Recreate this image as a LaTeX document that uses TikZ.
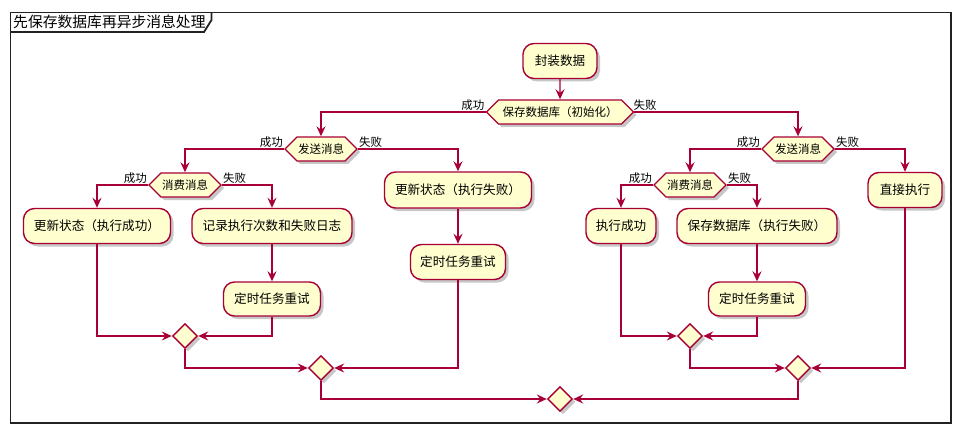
\documentclass[tikz,border=0pt]{standalone}
\usepackage{fontspec}
\setmainfont{Noto Sans CJK SC}
\usetikzlibrary{arrows.meta,shapes.geometric,shapes.symbols,shadows}
\definecolor{pu}{HTML}{A80036}
\definecolor{pufill}{HTML}{FEFECE}
\definecolor{frm}{HTML}{222222}
\begin{document}
\begin{tikzpicture}[x=1pt,y=-1pt,
  shd/.style={drop shadow={shadow xshift=3pt,shadow yshift=-3pt,fill=black,opacity=0.22}},
  act/.style={shape=rectangle,draw=pu,fill=pufill,line width=1.4pt,rounded corners=11pt,
    minimum height=35pt,inner xsep=0pt,inner ysep=0pt,shd,font=\fontsize{12.6}{14}\selectfont},
  dec/.style={shape=signal,signal to=west and east,signal pointer angle=90,draw=pu,fill=pufill,
    line width=1.4pt,minimum height=24pt,inner xsep=1pt,inner ysep=0pt,shd,
    font=\fontsize{11.5}{13}\selectfont},
  mrg/.style={shape=diamond,draw=pu,fill=pufill,line width=1.4pt,minimum width=25pt,
    minimum height=25pt,inner sep=0pt,shd},
  conn/.style={draw=pu,line width=1.4pt,-{Stealth[length=10pt,width=9pt,inset=3.5pt]}},
  lbl/.style={font=\fontsize{11.5}{13}\selectfont,inner sep=1pt,text=black}]
\useasboundingbox (0,0) rectangle (956,425);
\fill[white] (0,0) rectangle (956,425);
% frame
\draw[frm,line width=1.8pt] (10.5,12.5) rectangle (951,423);
\draw[frm,line width=1.8pt] (10.5,32) -- (204,32) -- (211.5,20) -- (211.5,12.5);
\node[anchor=west,inner sep=0pt,font=\fontsize{14.8}{16}\selectfont] (title) at (13,22) {先保存数据库再异步消息处理};
% nodes
\node[act,minimum width=74pt] (n0) at (560,61) {封装数据};
\node[dec,minimum width=147pt] (d0) at (560,112) {保存数据库（初始化）};
\node[dec,minimum width=68pt] (dL) at (321,149) {发送消息};
\node[dec,minimum width=71pt] (dR) at (798,149) {发送消息};
\node[dec,minimum width=70pt] (cL) at (185,185) {消费消息};
\node[dec,minimum width=70pt] (cR) at (690,185) {消费消息};
\node[act,minimum width=147pt] (a1) at (97,226) {更新状态（执行成功）};
\node[act,minimum width=160pt] (a2) at (272,226) {记录执行次数和失败日志};
\node[act,minimum width=147pt,minimum height=36pt] (a3) at (458,190) {更新状态（执行失败）};
\node[act,minimum width=95pt] (a4) at (458,262) {定时任务重试};
\node[act,minimum width=97pt,minimum height=34pt] (a5) at (272,299) {定时任务重试};
\node[act,minimum width=70pt] (a6) at (621,226) {执行成功};
\node[act,minimum width=160pt] (a7) at (757,226) {保存数据库（执行失败）};
\node[act,minimum width=74pt] (a8) at (905,190) {直接执行};
\node[act,minimum width=97pt,minimum height=34pt] (a9) at (757,299) {定时任务重试};
\node[mrg] (m1) at (185,336) {};
\node[mrg] (m2) at (321,368) {};
\node[mrg] (m3) at (690,336) {};
\node[mrg] (m4) at (798,368) {};
\node[mrg] (m5) at (560,399) {};
% connectors
\draw[conn] (n0) -- (d0);
\draw[conn] (d0.west) -| (dL.north);
\draw[conn] (d0.east) -| (dR.north);
\node[lbl,anchor=south east] (l1) at (d0.west) {成功};
\node[lbl,anchor=south west,xshift=-2pt] (l2) at (d0.east) {失败};
\draw[conn] (dL.west) -| (cL.north);
\draw[conn] (dL.east) -| (a3.north);
\node[lbl,anchor=south east] (l3) at (dL.west) {成功};
\node[lbl,anchor=south west] (l4) at (dL.east) {失败};
\draw[conn] (dR.west) -| (cR.north);
\draw[conn] (dR.east) -| (a8.north);
\node[lbl,anchor=south east] (l5) at (dR.west) {成功};
\node[lbl,anchor=south west] (l6) at (dR.east) {失败};
\draw[conn] (cL.west) -| (a1.north);
\draw[conn] (cL.east) -| (a2.north);
\node[lbl,anchor=south east] (l7) at (cL.west) {成功};
\node[lbl,anchor=south west] (l8) at (cL.east) {失败};
\draw[conn] (cR.west) -| (a6.north);
\draw[conn] (cR.east) -| (a7.north);
\node[lbl,anchor=south east] (l9) at (cR.west) {成功};
\node[lbl,anchor=south west] (l10) at (cR.east) {失败};
\draw[conn] (a2) -- (a5);
\draw[conn] (a3) -- (a4);
\draw[conn] (a7) -- (a9);
\draw[conn] (a1.south) |- (m1.west);
\draw[conn] (a5.south) |- (m1.east);
\draw[conn] (m1.south) |- (m2.west);
\draw[conn] (a4.south) |- (m2.east);
\draw[conn] (a6.south) |- (m3.west);
\draw[conn] (a9.south) |- (m3.east);
\draw[conn] (m3.south) |- (m4.west);
\draw[conn] (a8.south) |- (m4.east);
\draw[conn] (m2.south) |- (m5.west);
\draw[conn] (m4.south) |- (m5.east);
\end{tikzpicture}
\end{document}
